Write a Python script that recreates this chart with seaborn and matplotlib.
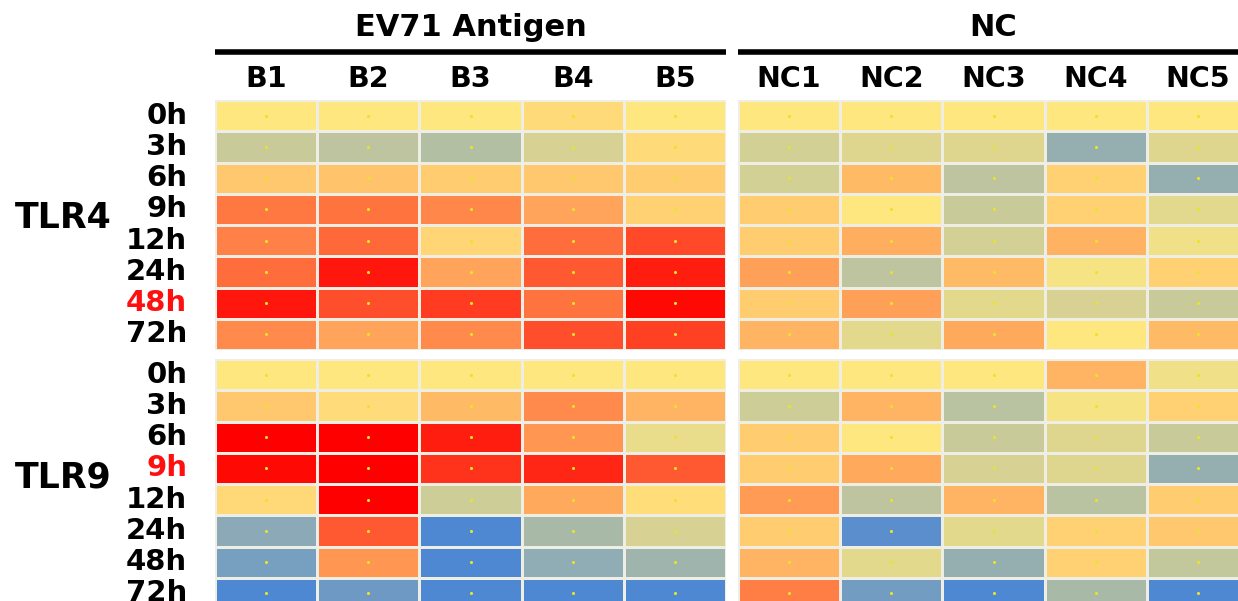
import numpy as np
import pandas as pd
import matplotlib
matplotlib.use("Agg")
import matplotlib.pyplot as plt
from matplotlib.colors import LinearSegmentedColormap
import seaborn as sns

times = ["0h", "3h", "6h", "9h", "12h", "24h", "48h", "72h"]
ev71_cols = ["B1", "B2", "B3", "B4", "B5"]
nc_cols = ["NC1", "NC2", "NC3", "NC4", "NC5"]
genes = ["TLR4", "TLR9"]
groups = ["EV71 Antigen", "NC"]
highlight = {"TLR4": "48h", "TLR9": "9h"}

tlr4_ev71 = [
    [0.00, 0.00, 0.00, 0.06, 0.00],
    [-0.30, -0.36, -0.42, -0.22, 0.06],
    [0.14, 0.16, 0.12, 0.14, 0.12],
    [0.48, 0.50, 0.42, 0.29, 0.10],
    [0.44, 0.55, 0.08, 0.53, 0.68],
    [0.53, 0.90, 0.29, 0.61, 0.87],
    [0.90, 0.66, 0.74, 0.50, 0.96],
    [0.40, 0.29, 0.40, 0.66, 0.72],
]
tlr4_nc = [
    [0.00, 0.00, 0.00, 0.00, 0.00],
    [-0.25, -0.18, -0.18, -0.58, -0.18],
    [-0.25, 0.20, -0.36, 0.10, -0.58],
    [0.12, 0.00, -0.30, 0.10, -0.16],
    [0.12, 0.25, -0.25, 0.23, -0.08],
    [0.31, -0.36, 0.20, -0.05, 0.10],
    [0.12, 0.31, -0.15, -0.22, -0.30],
    [0.22, -0.15, 0.27, 0.00, 0.20],
]
tlr9_ev71 = [
    [0.00, 0.00, 0.00, 0.00, 0.00],
    [0.14, 0.05, 0.20, 0.40, 0.22],
    [1.00, 1.00, 0.87, 0.35, -0.12],
    [0.96, 1.00, 0.78, 0.83, 0.61],
    [0.07, 1.00, -0.28, 0.27, 0.04],
    [-0.64, 0.61, -0.97, -0.47, -0.22],
    [-0.75, 0.35, -0.97, -0.61, -0.53],
    [-0.97, -0.80, -0.97, -0.97, -0.97],
]
tlr9_nc = [
    [0.00, 0.00, 0.00, 0.22, -0.08],
    [-0.28, 0.22, -0.39, -0.05, 0.10],
    [0.12, 0.00, -0.30, -0.18, -0.30],
    [0.12, 0.27, -0.22, -0.18, -0.58],
    [0.33, -0.36, 0.22, -0.39, 0.12],
    [0.12, -0.91, -0.15, 0.10, 0.14],
    [0.22, -0.15, -0.58, 0.10, -0.33],
    [0.46, -0.78, -0.97, -0.47, -0.97],
]

cmap = LinearSegmentedColormap.from_list(
    "byr", [(0.0, "#4a86d4"), (0.5, "#ffe880"), (1.0, "#ff0000")])

W, H = 1238, 601
fig = plt.figure(figsize=(W / 100, H / 100), dpi=100)
fig.patch.set_facecolor("white")

def frac_rect(x0, x1, y0, y1):
    return [x0 / W, 1 - y1 / H, (x1 - x0) / W, (y1 - y0) / H]

col_x = [(215, 726), (738, 1249)]
row_y = [(100, 350), (359, 609)]
blocks = [[tlr4_ev71, tlr4_nc], [tlr9_ev71, tlr9_nc]]
col_names = [ev71_cols, nc_cols]

for gi, gene in enumerate(genes):
    for ci in range(2):
        ax = fig.add_axes(frac_rect(col_x[ci][0], col_x[ci][1], row_y[gi][0], row_y[gi][1]))
        df = pd.DataFrame(blocks[gi][ci], index=times, columns=col_names[ci])
        sns.heatmap(df, ax=ax, cmap=cmap, vmin=-1, vmax=1, cbar=False,
                    linewidths=2, linecolor="#efeee4",
                    xticklabels=(gi == 0), yticklabels=(ci == 0))
        # tiny marker dots at cell centres
        yy, xx = np.meshgrid(np.arange(len(times)) + 0.5, np.arange(len(col_names[ci])) + 0.5, indexing="ij")
        ax.scatter(xx.ravel(), yy.ravel(), s=5, color="#e8e428", linewidths=0, zorder=3)
        ax.tick_params(length=0)
        if gi == 0:
            ax.xaxis.tick_top()
            ax.tick_params(axis="x", pad=5)
            for t in ax.get_xticklabels():
                t.set_fontsize(20.5)
                t.set_fontweight("bold")
                t.set_rotation(0)
            ax.plot([0, 1], [1.192, 1.192], transform=ax.transAxes, color="black",
                    lw=4, clip_on=False, solid_capstyle="butt")
            ax.text(0.5, 1.29, groups[ci], transform=ax.transAxes, ha="center", va="center",
                    fontsize=22, fontweight="bold")
        if ci == 0:
            ax.tick_params(axis="y", pad=20)
            for t in ax.get_yticklabels():
                t.set_fontsize(21)
                t.set_fontweight("bold")
                t.set_rotation(0)
                t.set_ha("right")
                if t.get_text() == highlight[gene]:
                    t.set_color("#ff1010")
            ax.text(-0.392, 0.528, gene, transform=ax.transAxes, ha="left", va="center",
                    fontsize=25, fontweight="bold")
        ax.set_xlabel("")
        ax.set_ylabel("")

fig.savefig("out.png", dpi=100, facecolor="white")
